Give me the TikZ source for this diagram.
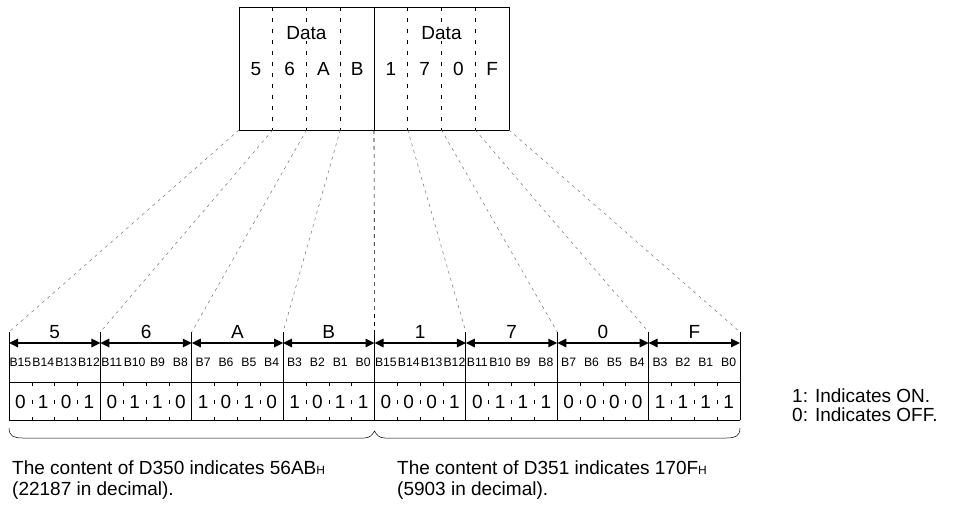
\documentclass[tikz,border=0pt]{standalone}
\usepackage{fontspec}
\setmainfont{Liberation Sans}
\usetikzlibrary{arrows.meta}

\tikzset{
  txt/.style={font=\fontsize{19}{22}\selectfont, anchor=base, inner sep=0pt},
  note/.style={txt, anchor=base west},
  bitlbl/.style={font=\fontsize{12.2}{14}\selectfont, anchor=base, inner sep=0pt},
  rule/.style={line width=0.8pt},
  span/.style={line width=1.6pt, {Triangle[length=9pt,width=8.5pt]}-{Triangle[length=9pt,width=8.5pt]}},
  cellsep/.style={line width=0.6pt, dash pattern=on 4pt off 13.5pt},
  boxsep/.style={line width=0.6pt, dash pattern=on 4pt off 7pt},
  proj/.style={line width=0.5pt, black!55, dash pattern=on 3pt off 4pt},
  midproj/.style={line width=0.6pt, dash pattern=on 4pt off 4pt},
}
\newcommand{\hexsub}{{\fontsize{12}{14}\selectfont H}}

\begin{document}
\begin{tikzpicture}[x=1pt, y=-1pt]
  \useasboundingbox (0,0) rectangle (962,504);

  % data words
  \begin{scope}[shift={(239,0)}, x=33.75pt]
    \draw[rule] (0,7) rectangle (8,130);
    \draw[rule] (4,7) -- (4,130);
    \draw[boxsep] (1,7) -- (1,130) (2,7) -- (2,130) (3,7) -- (3,130)
                  (5,7) -- (5,130) (6,7) -- (6,130) (7,7) -- (7,130);
    \draw
      (2,39.5) node[txt, fill=white, inner sep=1.5pt] (data1){Data}
      (6,39.5) node[txt, fill=white, inner sep=1.5pt] (data2){Data}
      (0.5,75) node[txt] (x1){5}
      (1.5,75) node[txt] (x2){6}
      (2.5,75) node[txt] (x3){A}
      (3.5,75) node[txt] (x4){B}
      (4.5,75) node[txt] (x5){1}
      (5.5,75) node[txt] (x6){7}
      (6.5,75) node[txt] (x7){0}
      (7.5,75) node[txt] (x8){F};
    \coordinate (t0) at (0,130);
    \coordinate (t1) at (1,130);
    \coordinate (t2) at (2,130);
    \coordinate (t3) at (3,130);
    \coordinate (t4) at (4,130);
    \coordinate (t5) at (5,130);
    \coordinate (t6) at (6,130);
    \coordinate (t7) at (7,130);
    \coordinate (t8) at (8,130);
  \end{scope}

  % bit table
  \begin{scope}[shift={(9,0)}, x=22.84375pt]
    \coordinate (g0) at (0,332);
    \coordinate (g1) at (4,332);
    \coordinate (g2) at (8,332);
    \coordinate (g3) at (12,332);
    \coordinate (g4) at (16,332);
    \coordinate (g5) at (20,332);
    \coordinate (g6) at (24,332);
    \coordinate (g7) at (28,332);
    \coordinate (g8) at (32,332);
    \coordinate (a0) at (0,343);
    \coordinate (a1) at (4,343);
    \coordinate (a2) at (8,343);
    \coordinate (a3) at (12,343);
    \coordinate (a4) at (16,343);
    \coordinate (a5) at (20,343);
    \coordinate (a6) at (24,343);
    \coordinate (a7) at (28,343);
    \coordinate (a8) at (32,343);
    \draw[rule] (g0) -- (0,420) (g1) -- (4,420) (g2) -- (8,420)
                (g3) -- (12,420) (g4) -- (16,420) (g5) -- (20,420)
                (g6) -- (24,420) (g7) -- (28,420) (g8) -- (32,420);
    \draw[rule] (0,382) -- (32,382) (0,420) -- (32,420);
    \draw[cellsep] (1,382) -- (1,420) (2,382) -- (2,420) (3,382) -- (3,420)
                   (5,382) -- (5,420) (6,382) -- (6,420) (7,382) -- (7,420)
                   (9,382) -- (9,420) (10,382) -- (10,420) (11,382) -- (11,420)
                   (13,382) -- (13,420) (14,382) -- (14,420) (15,382) -- (15,420)
                   (17,382) -- (17,420) (18,382) -- (18,420) (19,382) -- (19,420)
                   (21,382) -- (21,420) (22,382) -- (22,420) (23,382) -- (23,420)
                   (25,382) -- (25,420) (26,382) -- (26,420) (27,382) -- (27,420)
                   (29,382) -- (29,420) (30,382) -- (30,420) (31,382) -- (31,420);
    \begin{scope}[span]
      \draw (a0) to (a1);
      \draw (a1) to (a2);
      \draw (a2) to (a3);
      \draw (a3) to (a4);
      \draw (a4) to (a5);
      \draw (a5) to (a6);
      \draw (a6) to (a7);
      \draw (a7) to (a8);
    \end{scope}
    \draw
      (2,338.5) node[txt] (n1){5}
      (6,338.5) node[txt] (n2){6}
      (10,338.5) node[txt] (n3){A}
      (14,338.5) node[txt] (n4){B}
      (18,338.5) node[txt] (n5){1}
      (22,338.5) node[txt] (n6){7}
      (26,338.5) node[txt] (n7){0}
      (30,338.5) node[txt] (n8){F};
    \draw
      (0.5,366) node[bitlbl] (b1){B15}
      (1.5,366) node[bitlbl] (b2){B14}
      (2.5,366) node[bitlbl] (b3){B13}
      (3.5,366) node[bitlbl] (b4){B12}
      (4.5,366) node[bitlbl] (b5){B11}
      (5.5,366) node[bitlbl] (b6){B10}
      (6.5,366) node[bitlbl] (b7){B9}
      (7.5,366) node[bitlbl] (b8){B8}
      (8.5,366) node[bitlbl] (b9){B7}
      (9.5,366) node[bitlbl] (b10){B6}
      (10.5,366) node[bitlbl] (b11){B5}
      (11.5,366) node[bitlbl] (b12){B4}
      (12.5,366) node[bitlbl] (b13){B3}
      (13.5,366) node[bitlbl] (b14){B2}
      (14.5,366) node[bitlbl] (b15){B1}
      (15.5,366) node[bitlbl] (b16){B0}
      (16.5,366) node[bitlbl] (b17){B15}
      (17.5,366) node[bitlbl] (b18){B14}
      (18.5,366) node[bitlbl] (b19){B13}
      (19.5,366) node[bitlbl] (b20){B12}
      (20.5,366) node[bitlbl] (b21){B11}
      (21.5,366) node[bitlbl] (b22){B10}
      (22.5,366) node[bitlbl] (b23){B9}
      (23.5,366) node[bitlbl] (b24){B8}
      (24.5,366) node[bitlbl] (b25){B7}
      (25.5,366) node[bitlbl] (b26){B6}
      (26.5,366) node[bitlbl] (b27){B5}
      (27.5,366) node[bitlbl] (b28){B4}
      (28.5,366) node[bitlbl] (b29){B3}
      (29.5,366) node[bitlbl] (b30){B2}
      (30.5,366) node[bitlbl] (b31){B1}
      (31.5,366) node[bitlbl] (b32){B0};
    \draw
      (0.5,408.5) node[txt] (d1){0}
      (1.5,408.5) node[txt] (d2){1}
      (2.5,408.5) node[txt] (d3){0}
      (3.5,408.5) node[txt] (d4){1}
      (4.5,408.5) node[txt] (d5){0}
      (5.5,408.5) node[txt] (d6){1}
      (6.5,408.5) node[txt] (d7){1}
      (7.5,408.5) node[txt] (d8){0}
      (8.5,408.5) node[txt] (d9){1}
      (9.5,408.5) node[txt] (d10){0}
      (10.5,408.5) node[txt] (d11){1}
      (11.5,408.5) node[txt] (d12){0}
      (12.5,408.5) node[txt] (d13){1}
      (13.5,408.5) node[txt] (d14){0}
      (14.5,408.5) node[txt] (d15){1}
      (15.5,408.5) node[txt] (d16){1}
      (16.5,408.5) node[txt] (d17){0}
      (17.5,408.5) node[txt] (d18){0}
      (18.5,408.5) node[txt] (d19){0}
      (19.5,408.5) node[txt] (d20){1}
      (20.5,408.5) node[txt] (d21){0}
      (21.5,408.5) node[txt] (d22){1}
      (22.5,408.5) node[txt] (d23){1}
      (23.5,408.5) node[txt] (d24){1}
      (24.5,408.5) node[txt] (d25){0}
      (25.5,408.5) node[txt] (d26){0}
      (26.5,408.5) node[txt] (d27){0}
      (27.5,408.5) node[txt] (d28){0}
      (28.5,408.5) node[txt] (d29){1}
      (29.5,408.5) node[txt] (d30){1}
      (30.5,408.5) node[txt] (d31){1}
      (31.5,408.5) node[txt] (d32){1};
    % brace under both words
    \coordinate (bl) at (0,428);
    \coordinate (bm) at (16,431);
    \coordinate (br) at (32,428);
    \draw[line width=0.5pt] (bl) .. controls (0,436) and (0.2,438) .. (0.6,438)
      -- (15.55,438) .. controls (15.8,438) and (15.9,435) .. (bm)
      .. controls (16.1,435) and (16.2,438) .. (16.45,438)
      -- (31.4,438) .. controls (31.8,438) and (32,436) .. (br);
  \end{scope}

  % projection of the nibbles
  \begin{scope}[proj]
    \draw (t0) to (g0);
    \draw (t1) to (g1);
    \draw (t2) to (g2);
    \draw (t3) to (g3);
    \draw (t5) to (g5);
    \draw (t6) to (g6);
    \draw (t7) to (g7);
    \draw (t8) to (g8);
  \end{scope}
  \draw[midproj] (t4) -- (g4);

  \draw
    (792,402) node[note] (on){1: Indicates ON.}
    (792,421) node[note] (off){0: Indicates OFF.}
    (12,474) node[note] (w1a){The content of D350 indicates 56AB\hexsub}
    (12,495) node[note] (w1b){(22187 in decimal).}
    (397,474) node[note] (w2a){The content of D351 indicates 170F\hexsub}
    (397,495) node[note] (w2b){(5903 in decimal).};
\end{tikzpicture}
\end{document}
